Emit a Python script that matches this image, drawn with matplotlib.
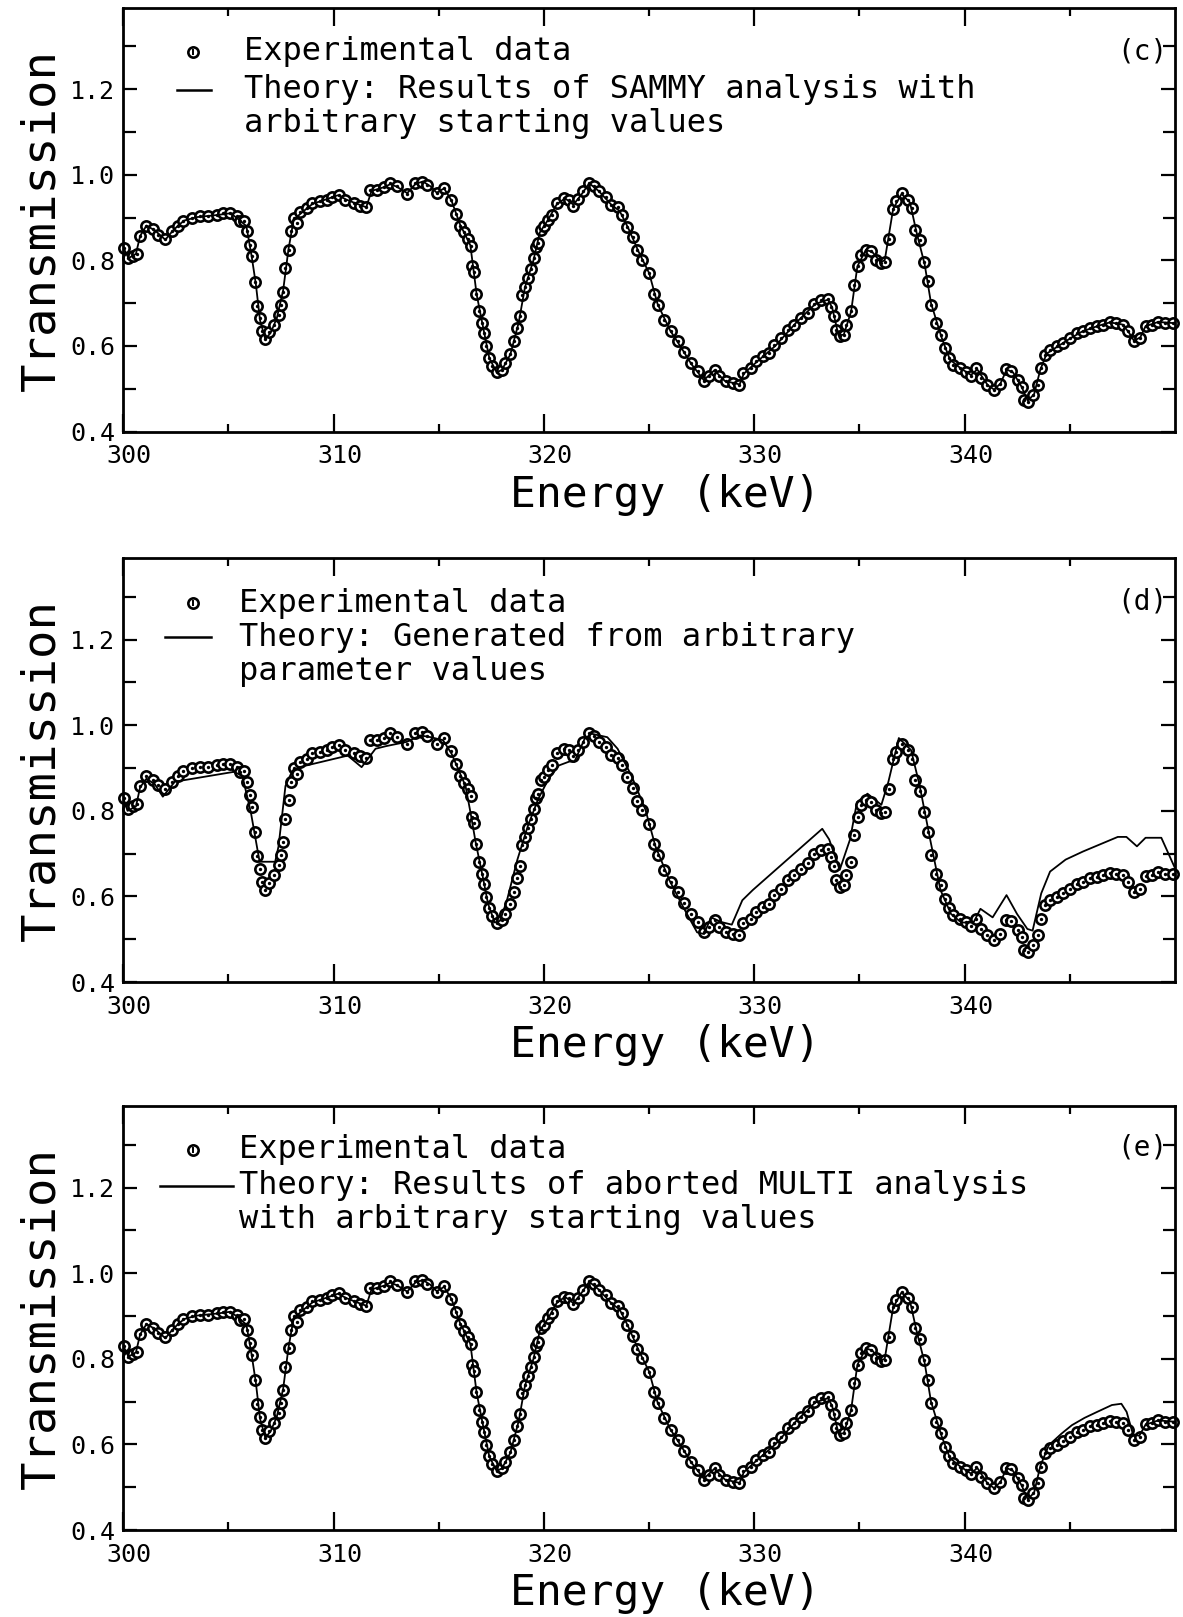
import matplotlib
matplotlib.use("Agg")
import matplotlib.pyplot as plt
from matplotlib.ticker import FixedLocator, FormatStrFormatter
import matplotlib.transforms as mtransforms

# ---------------- data ----------------
exp_E = [300.03, 300.24, 300.48, 300.63, 300.8, 301.1, 301.43, 301.67, 301.98, 302.3,
         302.6, 302.86, 303.25, 303.65, 304.05, 304.44, 304.76, 305.08, 305.4, 305.56,
         305.75, 305.88, 306.0, 306.11, 306.27, 306.35, 306.48, 306.59, 306.75, 306.95,
         307.17, 307.38, 307.49, 307.6, 307.7, 307.86, 307.95, 308.1, 308.25, 308.41,
         308.73, 308.97, 309.37, 309.68, 309.92, 310.24, 310.56, 310.95, 311.27, 311.56,
         311.75, 312.06, 312.38, 312.67, 313.02, 313.49, 313.89, 314.21, 314.45, 314.92,
         315.24, 315.59, 315.84, 316.03, 316.22, 316.38, 316.51, 316.58, 316.67, 316.75,
         316.9, 317.03, 317.14, 317.22, 317.38, 317.54, 317.75, 318.02, 318.17, 318.38,
         318.57, 318.73, 318.86, 318.95, 319.08, 319.24, 319.37, 319.52, 319.6, 319.71,
         319.84, 320.0, 320.19, 320.4, 320.63, 320.95, 321.19, 321.4, 321.62, 321.87,
         322.14, 322.38, 322.62, 322.94, 323.21, 323.52, 323.73, 323.97, 324.21, 324.44,
         324.68, 325.0, 325.21, 325.43, 325.71, 326.03, 326.35, 326.67, 326.98, 327.3,
         327.59, 327.86, 328.12, 328.33, 328.65, 328.97, 329.29, 329.44, 329.84, 330.08,
         330.4, 330.71, 330.95, 331.27, 331.59, 331.9, 332.22, 332.54, 332.86, 333.17,
         333.49, 333.65, 333.8, 333.88, 334.05, 334.25, 334.37, 334.6, 334.73, 334.92,
         335.08, 335.32, 335.56, 335.79, 336.03, 336.19, 336.38, 336.59, 336.75, 337.02,
         337.3, 337.51, 337.65, 337.9, 338.06, 338.25, 338.41, 338.65, 338.86, 339.05,
         339.24, 339.44, 339.76, 340.08, 340.32, 340.56, 340.79, 341.08, 341.4, 341.67,
         341.95, 342.22, 342.54, 342.73, 342.8, 343.02, 343.25, 343.49, 343.62, 343.81,
         344.05, 344.37, 344.68, 345.0, 345.32, 345.63, 345.95, 346.27, 346.59, 346.9,
         347.21, 347.52, 347.78, 348.06, 348.33, 348.6, 348.89, 349.21, 349.52, 349.92]
exp_T = [0.829, 0.805, 0.811, 0.815, 0.857, 0.881, 0.873, 0.86, 0.85, 0.868,
         0.881, 0.893, 0.899, 0.903, 0.903, 0.907, 0.91, 0.91, 0.903, 0.891,
         0.893, 0.868, 0.836, 0.809, 0.75, 0.694, 0.665, 0.634, 0.616, 0.632,
         0.65, 0.673, 0.696, 0.727, 0.782, 0.825, 0.868, 0.899, 0.887, 0.914,
         0.922, 0.934, 0.938, 0.942, 0.949, 0.953, 0.942, 0.934, 0.928, 0.924,
         0.965, 0.965, 0.971, 0.981, 0.973, 0.955, 0.981, 0.984, 0.975, 0.957,
         0.969, 0.94, 0.909, 0.881, 0.865, 0.85, 0.834, 0.786, 0.772, 0.722,
         0.681, 0.653, 0.63, 0.599, 0.572, 0.554, 0.538, 0.544, 0.56, 0.582,
         0.611, 0.642, 0.671, 0.72, 0.738, 0.759, 0.78, 0.805, 0.831, 0.84,
         0.871, 0.879, 0.895, 0.907, 0.935, 0.945, 0.942, 0.928, 0.943, 0.961,
         0.981, 0.974, 0.961, 0.949, 0.93, 0.924, 0.907, 0.878, 0.854, 0.823,
         0.801, 0.77, 0.722, 0.696, 0.661, 0.634, 0.611, 0.585, 0.56, 0.541,
         0.517, 0.529, 0.544, 0.529, 0.517, 0.513, 0.509, 0.537, 0.548, 0.564,
         0.576, 0.583, 0.603, 0.618, 0.638, 0.65, 0.665, 0.677, 0.699, 0.708,
         0.71, 0.692, 0.671, 0.638, 0.622, 0.626, 0.65, 0.681, 0.743, 0.786,
         0.813, 0.825, 0.821, 0.801, 0.794, 0.797, 0.85, 0.92, 0.938, 0.957,
         0.942, 0.922, 0.871, 0.847, 0.797, 0.751, 0.696, 0.653, 0.626, 0.595,
         0.572, 0.556, 0.548, 0.54, 0.53, 0.548, 0.525, 0.509, 0.498, 0.511,
         0.546, 0.542, 0.521, 0.505, 0.474, 0.47, 0.486, 0.509, 0.548, 0.579,
         0.591, 0.599, 0.607, 0.618, 0.63, 0.634, 0.642, 0.646, 0.65, 0.655,
         0.653, 0.65, 0.634, 0.611, 0.618, 0.647, 0.65, 0.657, 0.653, 0.653]

# (c) SAMMY fit: coincides with the data
theory_c_E = [300.0, 300.25, 300.6, 300.8, 301.1, 301.5, 302.0, 302.3, 302.6, 302.9,
              303.5, 304.5, 305.1, 305.5, 305.85, 306.1, 306.3, 306.5, 306.75, 307.0,
              307.3, 307.6, 307.85, 308.1, 308.5, 309.0, 309.5, 310.2, 310.6, 311.0,
              311.55, 311.8, 312.4, 312.7, 313.0, 313.5, 313.9, 314.25, 314.6, 314.9,
              315.25, 315.6, 316.0, 316.5, 316.8, 317.1, 317.4, 317.75, 318.0, 318.4,
              318.8, 319.1, 319.5, 319.8, 320.2, 320.6, 321.0, 321.4, 321.8, 322.15,
              322.6, 323.2, 323.6, 324.0, 324.5, 325.0, 325.4, 326.0, 326.6, 327.0,
              327.6, 328.1, 328.6, 329.3, 329.5, 330.1, 331.0, 332.0, 332.9, 333.5,
              333.7, 334.0, 334.25, 334.6, 334.9, 335.3, 335.6, 336.0, 336.2, 336.6,
              337.0, 337.4, 337.7, 338.1, 338.4, 338.9, 339.3, 339.8, 340.3, 340.6,
              341.1, 341.4, 341.7, 342.0, 342.3, 342.7, 343.0, 343.3, 343.6, 343.9,
              344.4, 345.0, 345.6, 346.3, 346.9, 347.5, 347.8, 348.05, 348.35, 348.6,
              349.2, 350.0]
theory_c_T = [0.83, 0.805, 0.815, 0.857, 0.881, 0.87, 0.848, 0.866, 0.881, 0.893,
              0.901, 0.906, 0.91, 0.895, 0.88, 0.81, 0.745, 0.66, 0.616, 0.63,
              0.665, 0.73, 0.825, 0.895, 0.912, 0.932, 0.94, 0.952, 0.942, 0.934,
              0.924, 0.962, 0.971, 0.978, 0.972, 0.957, 0.979, 0.984, 0.973, 0.958,
              0.968, 0.94, 0.885, 0.835, 0.72, 0.645, 0.572, 0.538, 0.544, 0.58,
              0.655, 0.738, 0.8, 0.865, 0.895, 0.93, 0.945, 0.93, 0.955, 0.98,
              0.962, 0.93, 0.915, 0.876, 0.82, 0.77, 0.698, 0.636, 0.59, 0.558,
              0.52, 0.543, 0.518, 0.51, 0.535, 0.562, 0.6, 0.655, 0.698, 0.708,
              0.69, 0.625, 0.626, 0.68, 0.786, 0.824, 0.82, 0.796, 0.8, 0.92,
              0.955, 0.935, 0.868, 0.79, 0.7, 0.62, 0.568, 0.548, 0.532, 0.545,
              0.508, 0.498, 0.512, 0.545, 0.538, 0.505, 0.472, 0.487, 0.545, 0.582,
              0.598, 0.617, 0.634, 0.646, 0.655, 0.65, 0.632, 0.612, 0.62, 0.646,
              0.656, 0.653]

# (d) curve generated from arbitrary parameter values
theory_d_E = [300.0, 300.2, 300.6, 300.8, 301.1, 301.5, 301.88, 302.45, 305.25, 305.66,
              306.07, 306.48, 307.22, 307.38, 307.71, 308.04, 308.37, 310.67, 311.33, 311.99,
              312.48, 313.47, 314.13, 314.62, 315.2, 315.61, 316.27, 316.51, 316.76, 317.09,
              317.34, 317.66, 317.91, 318.24, 318.73, 319.23, 319.72, 320.21, 320.71, 321.2,
              321.45, 321.94, 322.27, 323.01, 323.5, 324.16, 324.82, 325.3, 325.96, 326.62,
              327.28, 327.61, 327.94, 328.44, 328.93, 329.43, 329.93, 333.23, 333.56, 334.06,
              334.55, 334.88, 335.38, 336.04, 336.37, 336.87, 337.45, 337.86, 338.36, 338.85,
              339.35, 339.84, 340.42, 340.75, 341.33, 341.99, 342.49, 342.98, 343.23, 343.64,
              344.06, 344.8, 345.63, 347.28, 347.69, 348.19, 348.6, 349.35, 349.68, 350.0]
theory_d_T = [0.83, 0.80, 0.81, 0.855, 0.875, 0.862, 0.833, 0.868, 0.891, 0.882,
              0.795, 0.681, 0.681, 0.717, 0.858, 0.894, 0.902, 0.929, 0.902, 0.945,
              0.951, 0.961, 0.976, 0.972, 0.965, 0.933, 0.858, 0.795, 0.724, 0.646,
              0.583, 0.539, 0.543, 0.591, 0.685, 0.764, 0.827, 0.874, 0.906, 0.915,
              0.915, 0.969, 0.98, 0.972, 0.945, 0.882, 0.803, 0.717, 0.638, 0.575,
              0.516, 0.512, 0.551, 0.54, 0.534, 0.591, 0.615, 0.758, 0.733, 0.662,
              0.733, 0.82, 0.84, 0.814, 0.867, 0.97, 0.942, 0.859, 0.733, 0.615,
              0.559, 0.539, 0.539, 0.571, 0.551, 0.603, 0.559, 0.524, 0.52, 0.607,
              0.658, 0.686, 0.705, 0.739, 0.739, 0.717, 0.737, 0.737, 0.701, 0.666]

# (e) aborted MULTI fit: follows the data except above 343.5 keV
theory_e_E = [300.0, 300.25, 300.6, 300.8, 301.1, 301.5, 302.0, 302.3, 302.6, 302.9,
              303.5, 304.5, 305.1, 305.5, 305.85, 306.1, 306.3, 306.5, 306.75, 307.0,
              307.3, 307.6, 307.85, 308.1, 308.5, 309.0, 309.5, 310.2, 310.6, 311.0,
              311.55, 311.8, 312.4, 312.7, 313.0, 313.5, 313.9, 314.25, 314.6, 314.9,
              315.25, 315.6, 316.0, 316.5, 316.8, 317.1, 317.4, 317.75, 318.0, 318.4,
              318.8, 319.1, 319.5, 319.8, 320.2, 320.6, 321.0, 321.4, 321.8, 322.15,
              322.6, 323.2, 323.6, 324.0, 324.5, 325.0, 325.4, 326.0, 326.6, 327.0,
              327.6, 328.1, 328.6, 329.3, 329.5, 330.1, 331.0, 332.0, 332.9, 333.5,
              333.7, 334.0, 334.25, 334.6, 334.9, 335.3, 335.6, 336.0, 336.2, 336.6,
              337.0, 337.4, 337.7, 338.1, 338.4, 338.9, 339.3, 339.8, 340.3, 340.6,
              341.1, 341.4, 341.7, 342.0, 342.3, 342.7, 343.0, 343.3, 343.6, 344.0,
              344.6, 345.1, 345.7, 346.3, 347.0, 347.45, 347.7, 348.0, 348.3, 348.6,
              349.2, 350.0]
theory_e_T = [0.83, 0.805, 0.815, 0.857, 0.881, 0.87, 0.848, 0.866, 0.881, 0.893,
              0.901, 0.906, 0.91, 0.895, 0.88, 0.81, 0.745, 0.66, 0.616, 0.63,
              0.665, 0.73, 0.825, 0.895, 0.912, 0.932, 0.94, 0.952, 0.942, 0.934,
              0.924, 0.962, 0.971, 0.978, 0.972, 0.957, 0.979, 0.984, 0.973, 0.958,
              0.968, 0.94, 0.885, 0.835, 0.72, 0.645, 0.572, 0.538, 0.544, 0.58,
              0.655, 0.738, 0.8, 0.865, 0.895, 0.93, 0.945, 0.93, 0.955, 0.98,
              0.962, 0.93, 0.915, 0.876, 0.82, 0.77, 0.698, 0.636, 0.59, 0.558,
              0.52, 0.543, 0.518, 0.51, 0.535, 0.562, 0.6, 0.655, 0.698, 0.708,
              0.69, 0.625, 0.626, 0.68, 0.786, 0.824, 0.82, 0.796, 0.8, 0.92,
              0.955, 0.935, 0.868, 0.79, 0.7, 0.62, 0.568, 0.548, 0.532, 0.545,
              0.508, 0.498, 0.512, 0.545, 0.538, 0.505, 0.472, 0.487, 0.55, 0.598,
              0.625, 0.645, 0.662, 0.676, 0.692, 0.695, 0.676, 0.624, 0.62, 0.646,
              0.656, 0.653]

x_major = [300, 310, 320, 330, 340]
x_minor = [305, 315, 325, 335, 345]
y_major = [0.4, 0.6, 0.8, 1.0, 1.2]
y_minor = [0.5, 0.7, 0.9, 1.1, 1.3]

panel_tags = ["(c)", "(d)", "(e)"]
legend_line1 = ["Experimental data"] * 3
legend_line2 = ["Theory: Results of SAMMY analysis with",
                "Theory: Generated from arbitrary",
                "Theory: Results of aborted MULTI analysis"]
legend_line3 = ["arbitrary starting values",
                "parameter values",
                "with arbitrary starting values"]
theories = [(theory_c_E, theory_c_T), (theory_d_E, theory_d_T), (theory_e_E, theory_e_T)]

# ---------------- figure ----------------
plt.rcParams['font.family'] = ['DejaVu Sans Mono', 'DejaVu Sans']

W, H = 1183, 1617
fig = plt.figure(figsize=(W / 100, H / 100), dpi=100)
fig.patch.set_facecolor('white')

ax_left = 123.3 / W
ax_width = (1175 - 123.3) / W
ax_height = 423.7 / H
bottoms_px = [431.5, 982.0, 1530.0]

# legend layout (axes fractions)
leg_marker_x = [0.066, 0.066, 0.066]
leg_text_x = [0.115, 0.110, 0.110]
leg_y1 = [0.896, 0.894, 0.897]
leg_y2 = [0.806, 0.814, 0.812]
leg_y3 = [0.726, 0.732, 0.732]
dash_x = [(0.051, 0.083), (0.040, 0.083), (0.035, 0.104)]
tag_y = [0.896, 0.899, 0.902]

for i in range(3):
    ax = fig.add_axes([ax_left, 1 - bottoms_px[i] / H, ax_width, ax_height])
    ax.set_facecolor('white')

    ax.plot(exp_E, exp_T, linestyle='none', marker='o', ms=7.4, mfc='white',
            mec='black', mew=1.9, clip_on=False, zorder=2)
    ax.plot(exp_E, exp_T, linestyle='none', marker='o', ms=1.4, color='black',
            clip_on=False, zorder=2.5)
    tE, tT = theories[i]
    ax.plot(tE, tT, '-', color='black', lw=1.3, zorder=3)

    ax.set_xlim(300, 350)
    ax.set_ylim(0.4, 1.39)
    ax.xaxis.set_major_locator(FixedLocator(x_major))
    ax.xaxis.set_minor_locator(FixedLocator(x_minor))
    ax.yaxis.set_major_locator(FixedLocator(y_major))
    ax.yaxis.set_minor_locator(FixedLocator(y_minor))
    ax.yaxis.set_major_formatter(FormatStrFormatter('%.1f'))

    ax.tick_params(which='both', direction='in', top=True, right=True,
                   width=1.6, color='black', labelcolor='black')
    ax.tick_params(axis='x', which='major', length=13, pad=9, labelsize=18)
    ax.tick_params(axis='x', which='minor', length=6)
    ax.tick_params(axis='y', which='major', length=10, pad=6, labelsize=18)
    ax.tick_params(axis='y', which='minor', length=9)

    offset = mtransforms.ScaledTranslation(6 / 100, 0, fig.dpi_scale_trans)
    for lab in ax.get_xticklabels():
        lab.set_transform(lab.get_transform() + offset)

    for sp in ax.spines.values():
        sp.set_linewidth(2.0)
        sp.set_color('black')

    ax.set_ylabel('Transmission', fontsize=34)
    ax.yaxis.set_label_coords(-0.056, 0.5)
    ax.set_xlabel('Energy (keV)', fontsize=31)
    ax.xaxis.set_label_coords(0.515, -0.10)

    # legend drawn in axes coordinates
    ax.plot([leg_marker_x[i]], [leg_y1[i]], linestyle='none', marker='o', ms=7.4,
            mfc='white', mec='black', mew=1.9, transform=ax.transAxes, clip_on=False)
    ax.plot([leg_marker_x[i]], [leg_y1[i]], linestyle='none', marker='|', ms=4,
            mew=1.4, color='black', transform=ax.transAxes, clip_on=False)
    ax.plot(list(dash_x[i]), [leg_y2[i], leg_y2[i]], '-', color='black', lw=1.8,
            transform=ax.transAxes, clip_on=False)
    ax.text(leg_text_x[i], leg_y1[i], legend_line1[i], transform=ax.transAxes,
            fontsize=23, va='center', ha='left')
    ax.text(leg_text_x[i], leg_y2[i], legend_line2[i], transform=ax.transAxes,
            fontsize=23, va='center', ha='left')
    ax.text(leg_text_x[i], leg_y3[i], legend_line3[i], transform=ax.transAxes,
            fontsize=23, va='center', ha='left')
    ax.text(0.993, tag_y[i], panel_tags[i], transform=ax.transAxes,
            fontsize=20, va='center', ha='right')

fig.savefig('out.png', dpi=100, facecolor='white')
